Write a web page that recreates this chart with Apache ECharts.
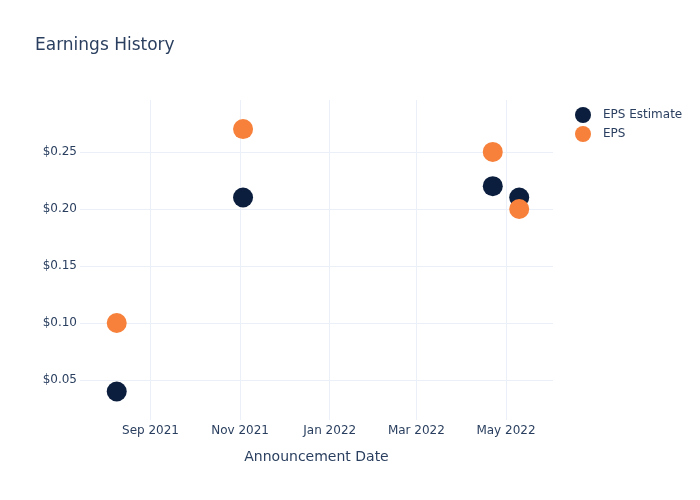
<!DOCTYPE html>
<html>
<head>
<meta charset="utf-8">
<script src="https://cdn.jsdelivr.net/npm/echarts@6/dist/echarts.min.js"></script>
<style>html,body{margin:0;padding:0;background:#fff}#chart{width:700px;height:500px}</style>
</head>
<body>
<div id="chart"></div>
<script>
const dates = ['2021-08-09', '2021-11-03', '2022-04-22', '2022-05-10'];
const epsEstimate = [0.04, 0.21, 0.22, 0.21];
const eps = [0.10, 0.27, 0.25, 0.20];
const xTicks = ['2021-09-01', '2021-11-01', '2022-01-01', '2022-03-01', '2022-05-01'];
const xTickLabels = ['Sep 2021', 'Nov 2021', 'Jan 2022', 'Mar 2022', 'May 2022'];
const yTicks = [0.05, 0.10, 0.15, 0.20, 0.25];

const toTs = s => Date.parse(s + 'T00:00:00Z');
const tickTs = xTicks.map(toTs);
const font = 'DejaVu Sans, sans-serif';
const textColor = '#2a3f5f';

const chart = echarts.init(document.getElementById('chart'));
chart.setOption({
  backgroundColor: '#fff',
  animation: false,
  title: {
    text: 'Earnings History', left: 30, top: 32,
    textStyle: { fontFamily: font, fontSize: 17, fontWeight: 'normal', color: textColor }
  },
  legend: {
    orient: 'vertical', left: 570, top: 102, itemGap: 3,
    icon: 'circle', itemWidth: 16, itemHeight: 16,
    textStyle: { fontFamily: font, fontSize: 12, color: textColor, padding: [0, 0, 0, 7] },
    data: ['EPS Estimate', 'EPS']
  },
  grid: { left: 80, right: 147, top: 100, bottom: 80, containLabel: false },
  xAxis: {
    type: 'value',
    min: toTs('2021-07-15'), max: toTs('2022-06-02'),
    name: 'Announcement Date', nameLocation: 'middle', nameGap: 30,
    nameTextStyle: { fontFamily: font, fontSize: 14, color: textColor },
    axisLine: { show: false },
    axisTick: { show: false, customValues: tickTs },
    splitLine: { show: true, customValues: tickTs, lineStyle: { color: '#ebf0f8', width: 1 } },
    axisLabel: {
      customValues: tickTs, margin: 5,
      fontFamily: font, fontSize: 12, color: textColor,
      formatter: v => { const i = tickTs.indexOf(v); return i >= 0 ? xTickLabels[i] : ''; }
    }
  },
  yAxis: {
    type: 'value', min: 0.015, max: 0.2955,
    axisLine: { show: false },
    axisTick: { show: false, customValues: yTicks },
    splitLine: { show: true, customValues: yTicks, lineStyle: { color: '#ebf0f8', width: 1 } },
    axisLabel: {
      customValues: yTicks, margin: 3,
      fontFamily: font, fontSize: 12, color: textColor,
      formatter: v => '$' + v.toFixed(2)
    }
  },
  series: [
    {
      name: 'EPS Estimate', type: 'scatter', symbolSize: 20,
      itemStyle: { color: '#0b1e3e', opacity: 1 },
      data: dates.map((d, i) => [toTs(d), epsEstimate[i]])
    },
    {
      name: 'EPS', type: 'scatter', symbolSize: 20,
      itemStyle: { color: '#f7803a', opacity: 1 },
      data: dates.map((d, i) => [toTs(d), eps[i]])
    }
  ]
});
</script>
</body>
</html>
